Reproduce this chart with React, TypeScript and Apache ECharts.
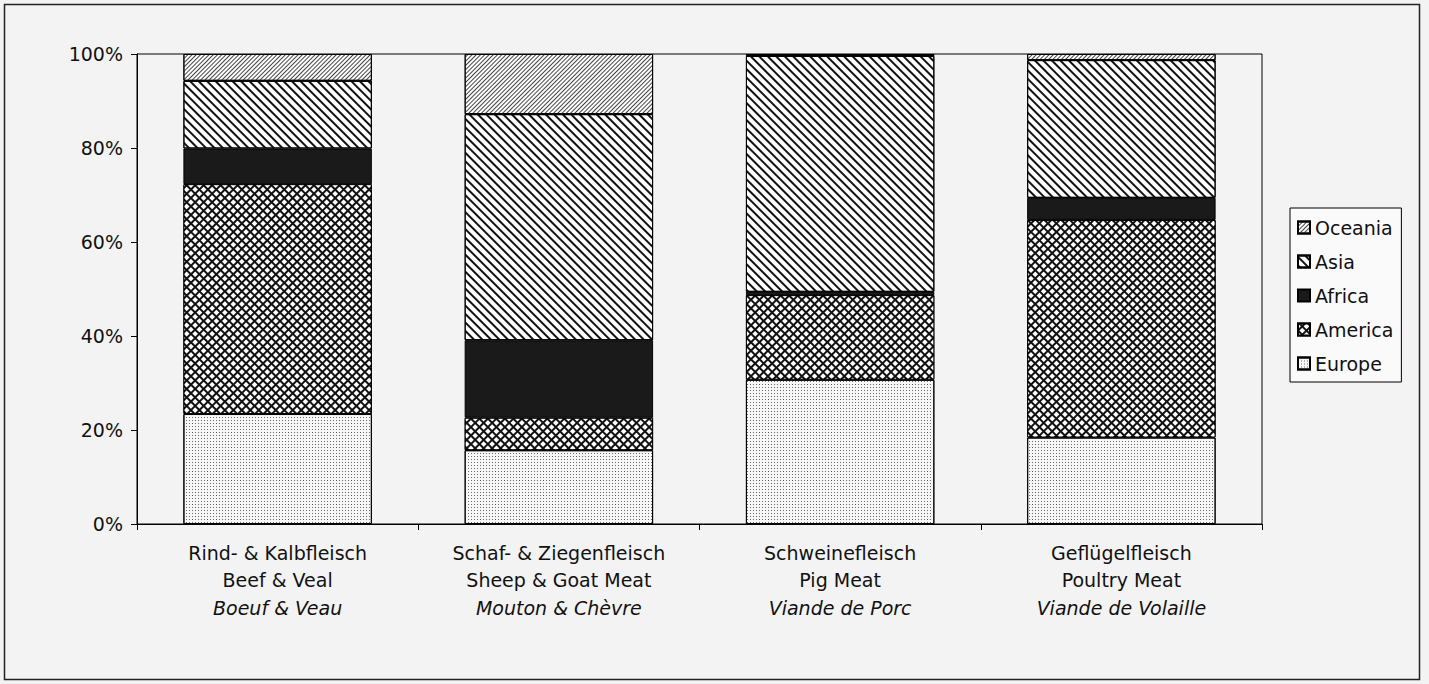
import React, { useEffect, useRef } from 'react';
import * as echarts from 'echarts';

const categoriesDE = ['Rind- & Kalbfleisch', 'Schaf- & Ziegenfleisch', 'Schweinefleisch', 'Geflügelfleisch'];
const categoriesEN = ['Beef & Veal', 'Sheep & Goat Meat', 'Pig Meat', 'Poultry Meat'];
const categoriesFR = ['Boeuf & Veau', 'Mouton & Chèvre', 'Viande de Porc', 'Viande de Volaille'];

const europe = [23.4, 15.7, 30.7, 18.4];
const america = [48.9, 6.9, 18.0, 46.3];
const africa = [7.6, 16.5, 0.7, 4.7];
const asia = [14.4, 48.1, 50.2, 29.3];
const oceania = [5.7, 12.8, 0.4, 1.3];

const legendOrder = ['Oceania', 'Asia', 'Africa', 'America', 'Europe'];
const yTicks = [0, 20, 40, 60, 80, 100];

const FONT = '"DejaVu Sans", "Liberation Sans", Arial, sans-serif';

export default function App() {
  const ref = useRef<HTMLDivElement>(null);

  useEffect(() => {
    if (!ref.current) return;
    const chart = echarts.init(ref.current, undefined, { renderer: 'svg' });

    const border = { borderColor: '#000', borderWidth: 1 };

    const series: any[] = [
      {
        name: 'Europe',
        data: europe,
        itemStyle: {
          color: '#f7f7f7',
          ...border,
          decal: { symbol: 'rect', symbolSize: 1, color: '#6a6a6a', dashArrayX: [1, 2], dashArrayY: [1, 2], rotation: 0 },
        },
      },
      {
        name: 'America',
        data: america,
        itemStyle: {
          color: '#111',
          ...border,
          decal: { symbol: 'rect', symbolSize: 1, color: '#ffffff', dashArrayX: [4, 2], dashArrayY: [4, 2], rotation: Math.PI / 4 },
        },
      },
      {
        name: 'Africa',
        data: africa,
        itemStyle: { color: '#1a1a1a', ...border },
      },
      {
        name: 'Asia',
        data: asia,
        itemStyle: {
          color: '#ffffff',
          ...border,
          decal: { symbol: 'rect', symbolSize: 1, color: '#111', dashArrayX: [1, 0], dashArrayY: [2, 4], rotation: Math.PI / 4 },
        },
      },
      {
        name: 'Oceania',
        data: oceania,
        itemStyle: {
          color: '#ffffff',
          ...border,
          decal: { symbol: 'rect', symbolSize: 1, color: '#444', dashArrayX: [1, 0], dashArrayY: [1, 2], rotation: -Math.PI / 4 },
        },
      },
    ].map((s) => ({ ...s, type: 'bar', stack: 'total', barWidth: '67%' }));

    chart.setOption({
      animation: false,
      backgroundColor: '#f3f3f3',
      textStyle: { fontFamily: FONT },
      grid: {
        left: 137,
        right: 167,
        top: 54,
        bottom: 160,
        show: true,
        borderColor: '#000',
        borderWidth: 1,
        backgroundColor: 'transparent',
      },
      legend: {
        orient: 'vertical',
        left: 1290,
        top: 208,
        data: legendOrder,
        icon: 'rect',
        itemWidth: 12,
        itemHeight: 12,
        itemGap: 15,
        itemTextGap: 6,
        padding: [10, 8, 9, 7],
        borderColor: '#000',
        borderWidth: 1,
        backgroundColor: '#fafafa',
        textStyle: { fontSize: 19, color: '#111', fontFamily: FONT },
      },
      xAxis: {
        type: 'category',
        data: categoriesDE,
        axisLine: { lineStyle: { color: '#000', width: 1 } },
        axisTick: { show: true, length: 6, lineStyle: { color: '#000' } },
        axisLabel: {
          margin: 15,
          interval: 0,
          formatter: (_v: string, i: number) =>
            `{a|${categoriesDE[i]}}\n{a|${categoriesEN[i]}}\n{i|${categoriesFR[i]}}`,
          rich: {
            a: { fontSize: 19, lineHeight: 27.5, color: '#111', fontFamily: FONT },
            i: { fontSize: 19, lineHeight: 27.5, color: '#111', fontFamily: FONT, fontStyle: 'italic' },
          },
        },
      },
      yAxis: {
        type: 'value',
        min: yTicks[0],
        max: yTicks[yTicks.length - 1],
        interval: yTicks[1] - yTicks[0],
        axisLine: { show: true, lineStyle: { color: '#000', width: 1 } },
        axisTick: { show: true, length: 6, lineStyle: { color: '#000' } },
        splitLine: { show: false },
        axisLabel: {
          margin: 14,
          formatter: '{value}%',
          fontSize: 19,
          color: '#111',
          fontFamily: FONT,
        },
      },
      graphic: [
        {
          type: 'rect',
          shape: { x: 4.5, y: 4.5, width: 1415, height: 675 },
          style: { fill: 'none', stroke: '#222', lineWidth: 1.5 },
          silent: true,
        },
      ],
      series,
    });

    return () => chart.dispose();
  }, []);

  return (
    <div
      ref={ref}
      style={{ position: 'fixed', left: 0, top: 0, width: 1429, height: 684 }}
    />
  );
}
